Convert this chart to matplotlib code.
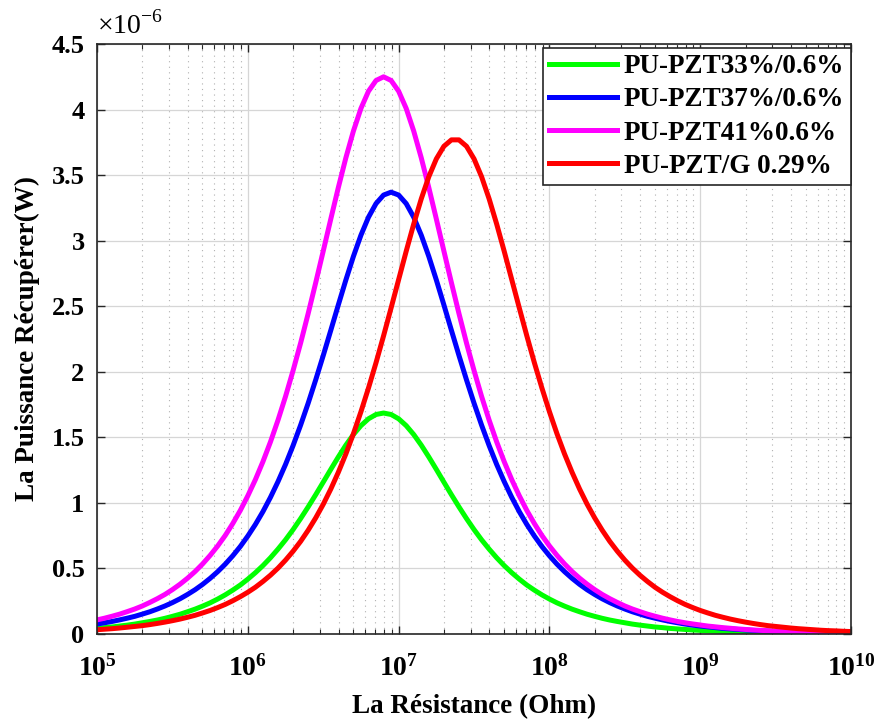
import matplotlib
matplotlib.use("Agg")
import matplotlib.pyplot as plt
from matplotlib.ticker import FixedLocator, LogLocator, NullFormatter

plt.rcParams['font.family'] = ['Liberation Serif', 'DejaVu Serif']
plt.rcParams['mathtext.fontset'] = 'custom'
plt.rcParams['mathtext.rm'] = 'Liberation Serif'
plt.rcParams['mathtext.bf'] = 'Liberation Serif:bold'

# resistance, as log10(R) in Ohm
log_r = [5.00, 5.05, 5.10, 5.15, 5.20, 5.25, 5.30, 5.35, 5.40, 5.45,
         5.50, 5.55, 5.60, 5.65, 5.70, 5.75, 5.80, 5.85, 5.90, 5.95,
         6.00, 6.05, 6.10, 6.15, 6.20, 6.25, 6.30, 6.35, 6.40, 6.45,
         6.50, 6.55, 6.60, 6.65, 6.70, 6.75, 6.80, 6.85, 6.90, 6.95,
         7.00, 7.05, 7.10, 7.15, 7.20, 7.25, 7.30, 7.35, 7.40, 7.45,
         7.50, 7.55, 7.60, 7.65, 7.70, 7.75, 7.80, 7.85, 7.90, 7.95,
         8.00, 8.05, 8.10, 8.15, 8.20, 8.25, 8.30, 8.35, 8.40, 8.45,
         8.50, 8.55, 8.60, 8.65, 8.70, 8.75, 8.80, 8.85, 8.90, 8.95,
         9.00, 9.05, 9.10, 9.15, 9.20, 9.25, 9.30, 9.35, 9.40, 9.45,
         9.50, 9.55, 9.60, 9.65, 9.70, 9.75, 9.80, 9.85, 9.90, 9.95,
         10.00]

# harvested power, in units of 1e-6 W
p_pzt33 = [0.042, 0.048, 0.053, 0.060, 0.067, 0.075, 0.085, 0.095, 0.106, 0.119,
           0.134, 0.150, 0.169, 0.189, 0.212, 0.237, 0.266, 0.298, 0.334, 0.373,
           0.418, 0.467, 0.521, 0.581, 0.647, 0.718, 0.796, 0.880, 0.969, 1.062,
           1.158, 1.255, 1.350, 1.440, 1.521, 1.589, 1.641, 1.674, 1.685, 1.674,
           1.641, 1.589, 1.521, 1.440, 1.350, 1.255, 1.158, 1.062, 0.969, 0.880,
           0.796, 0.718, 0.647, 0.581, 0.521, 0.467, 0.418, 0.373, 0.334, 0.298,
           0.266, 0.237, 0.212, 0.189, 0.169, 0.150, 0.134, 0.119, 0.106, 0.095,
           0.085, 0.075, 0.067, 0.060, 0.053, 0.048, 0.042, 0.038, 0.034, 0.030,
           0.027, 0.024, 0.021, 0.019, 0.017, 0.015, 0.013, 0.012, 0.011, 0.009,
           0.008, 0.008, 0.007, 0.006, 0.005, 0.005, 0.004, 0.004, 0.003, 0.003,
           0.003]
p_pzt37 = [0.075, 0.085, 0.095, 0.107, 0.120, 0.134, 0.151, 0.169, 0.190, 0.213,
           0.239, 0.268, 0.301, 0.337, 0.378, 0.424, 0.475, 0.532, 0.596, 0.667,
           0.747, 0.835, 0.933, 1.042, 1.162, 1.293, 1.437, 1.593, 1.760, 1.938,
           2.124, 2.316, 2.510, 2.700, 2.880, 3.042, 3.179, 3.283, 3.348, 3.370,
           3.348, 3.283, 3.179, 3.042, 2.880, 2.700, 2.510, 2.316, 2.124, 1.938,
           1.760, 1.593, 1.437, 1.293, 1.162, 1.042, 0.933, 0.835, 0.747, 0.667,
           0.596, 0.532, 0.475, 0.424, 0.378, 0.337, 0.301, 0.268, 0.239, 0.213,
           0.190, 0.169, 0.151, 0.134, 0.120, 0.107, 0.095, 0.085, 0.075, 0.067,
           0.060, 0.054, 0.048, 0.042, 0.038, 0.034, 0.030, 0.027, 0.024, 0.021,
           0.019, 0.017, 0.015, 0.013, 0.012, 0.011, 0.009, 0.008, 0.007, 0.007,
           0.006]
p_pzt41 = [0.107, 0.120, 0.135, 0.151, 0.170, 0.190, 0.213, 0.240, 0.269, 0.301,
           0.338, 0.379, 0.425, 0.476, 0.534, 0.599, 0.671, 0.751, 0.842, 0.942,
           1.054, 1.177, 1.314, 1.465, 1.631, 1.812, 2.009, 2.219, 2.444, 2.679,
           2.921, 3.165, 3.405, 3.632, 3.836, 4.009, 4.140, 4.222, 4.250, 4.222,
           4.140, 4.009, 3.836, 3.632, 3.405, 3.165, 2.921, 2.679, 2.444, 2.219,
           2.009, 1.812, 1.631, 1.465, 1.314, 1.177, 1.054, 0.942, 0.842, 0.751,
           0.671, 0.599, 0.534, 0.476, 0.425, 0.379, 0.338, 0.301, 0.269, 0.240,
           0.213, 0.190, 0.170, 0.151, 0.135, 0.120, 0.107, 0.095, 0.085, 0.076,
           0.068, 0.060, 0.054, 0.048, 0.043, 0.038, 0.034, 0.030, 0.027, 0.024,
           0.021, 0.019, 0.017, 0.015, 0.014, 0.012, 0.011, 0.009, 0.009, 0.008,
           0.007]
p_pztg = [0.032, 0.036, 0.040, 0.045, 0.051, 0.057, 0.063, 0.071, 0.080, 0.090,
          0.101, 0.113, 0.127, 0.142, 0.160, 0.179, 0.201, 0.225, 0.253, 0.284,
          0.318, 0.356, 0.400, 0.448, 0.502, 0.563, 0.631, 0.706, 0.791, 0.885,
          0.989, 1.105, 1.233, 1.373, 1.527, 1.695, 1.876, 2.069, 2.274, 2.487,
          2.703, 2.919, 3.127, 3.319, 3.488, 3.624, 3.720, 3.769, 3.769, 3.720,
          3.624, 3.488, 3.319, 3.127, 2.919, 2.703, 2.487, 2.274, 2.069, 1.876,
          1.695, 1.527, 1.373, 1.233, 1.105, 0.989, 0.885, 0.791, 0.706, 0.631,
          0.563, 0.502, 0.448, 0.400, 0.356, 0.318, 0.284, 0.253, 0.225, 0.201,
          0.179, 0.160, 0.142, 0.127, 0.113, 0.101, 0.090, 0.080, 0.071, 0.063,
          0.057, 0.051, 0.045, 0.040, 0.036, 0.032, 0.028, 0.025, 0.023, 0.020,
          0.018]

series = [
    (p_pzt33, '#00ff00', 'PU-PZT33%/0.6%'),
    (p_pzt37, '#0000ff', 'PU-PZT37%/0.6%'),
    (p_pzt41, '#ff00ff', 'PU-PZT41%0.6%'),
    (p_pztg, '#ff0000', 'PU-PZT/G 0.29%'),
]

resistance = [10 ** v for v in log_r]

fig = plt.figure(figsize=(8.79, 7.22), dpi=100)
ax = fig.add_axes([0.1104, 0.122, 0.8578, 0.817])

for vals, col, lab in series:
    ax.plot(resistance, vals, color=col, lw=3.6, label=lab)

ax.set_xscale('log')
ax.set_xlim(1e5, 1e10)
ax.set_ylim(0, 4.5)

ax.set_yticks([0, 0.5, 1, 1.5, 2, 2.5, 3, 3.5, 4, 4.5])
ax.set_yticklabels(['0', '0.5', '1', '1.5', '2', '2.5', '3', '3.5', '4', '4.5'])
ax.xaxis.set_major_locator(FixedLocator([1e5, 1e6, 1e7, 1e8, 1e9, 1e10]))
ax.set_xticklabels([r'$\mathbf{10^{%d}}$' % e for e in range(5, 11)])
ax.xaxis.set_minor_locator(LogLocator(base=10, subs=range(2, 10), numticks=20))
ax.xaxis.set_minor_formatter(NullFormatter())

ax.tick_params(which='both', direction='in', top=True, right=True, color='#262626')
ax.tick_params(which='major', length=6, width=1, labelsize=19)
ax.tick_params(axis='x', which='major', pad=15, labelsize=20)
ax.tick_params(axis='y', which='major', pad=9)
ax.tick_params(which='minor', length=3.5, width=0.8)
for lab in ax.get_yticklabels():
    lab.set_fontweight('bold')

ax.grid(which='major', color='#d6d6d6', lw=0.9, ls='-')
ax.grid(which='minor', axis='x', color='#b0b0b0', lw=0.8, ls=(0, (1, 4)))
ax.set_axisbelow(True)

for sp in ax.spines.values():
    sp.set_color('#262626')
    sp.set_linewidth(1.2)

ax.set_xlabel('La Résistance (Ohm)', fontsize=19.5, fontweight='bold', labelpad=9)
ax.set_ylabel('La Puissance Récupérer(W)', fontsize=19.5, fontweight='bold', labelpad=8)
ax.text(0.0, 1.008, r'$\times10^{-6}$', transform=ax.transAxes, fontsize=20,
        ha='left', va='bottom')

leg = ax.legend(loc='upper right', bbox_to_anchor=(1.0, 0.994),
                prop={'weight': 'bold', 'size': 19.5}, frameon=True, fancybox=False,
                edgecolor='#262626', framealpha=1, handlelength=2.5,
                labelspacing=0.3, borderpad=0.25, handletextpad=0.25, borderaxespad=0)
leg.get_frame().set_linewidth(1.2)

fig.savefig('out.png', dpi=100)
